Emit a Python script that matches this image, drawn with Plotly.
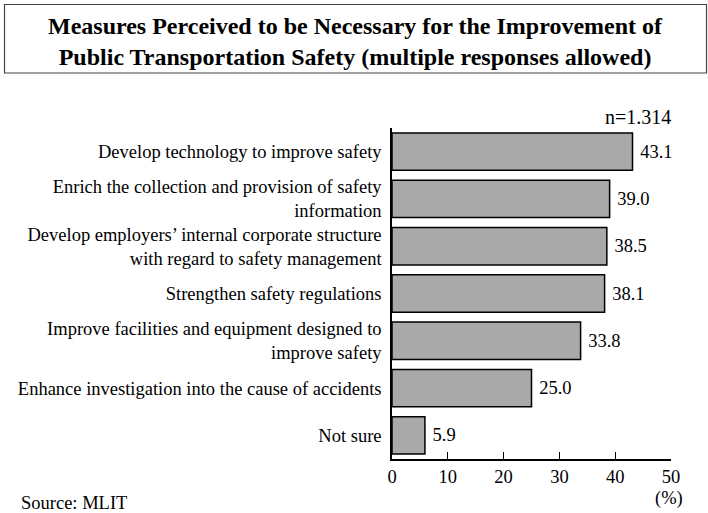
import plotly.graph_objects as go

categories = [
    "Develop technology to improve safety",
    "Enrich the collection and provision of safety<br>information",
    "Develop employers’ internal corporate structure<br>with regard to safety management",
    "Strengthen safety regulations",
    "Improve facilities and equipment designed to<br>improve safety",
    "Enhance investigation into the cause of accidents",
    "Not sure",
]
values = [43.1, 39.0, 38.5, 38.1, 33.8, 25.0, 5.9]
x_ticks = [0, 10, 20, 30, 40, 50]
title_lines = [
    "Measures Perceived to be Necessary for the Improvement of",
    "Public Transportation Safety (multiple responses allowed)",
]

FONT = "Liberation Serif"
FS = 18.5

W, H = 708, 513
L, R, T, B = 392, 37, 128, 54
pw = W - L - R
ph = H - T - B


def px(x):
    return (x - L) / pw


def py(y):
    return (H - B - y) / ph


fig = go.Figure(
    go.Bar(
        x=values,
        y=categories,
        orientation="h",
        marker=dict(color="#a9a9a9", line=dict(color="black", width=1.5)),
        width=0.79,
        text=["\u00a0" + f"{v:.1f}" for v in values],
        textposition="outside",
        textfont=dict(family=FONT, size=FS, color="black"),
        cliponaxis=False,
    )
)

fig.update_layout(
    width=W,
    height=H,
    margin=dict(l=L, r=R, t=T, b=B),
    plot_bgcolor="white",
    paper_bgcolor="white",
    showlegend=False,
    font=dict(family=FONT, size=FS, color="black"),
    xaxis=dict(
        range=[0, 50],
        tickvals=x_ticks,
        ticks="inside",
        ticklen=7,
        tickcolor="black",
        showline=True,
        linecolor="black",
        linewidth=1.5,
        showgrid=False,
        zeroline=False,
        tickfont=dict(family=FONT, size=FS),
    ),
    yaxis=dict(
        autorange="reversed",
        showline=True,
        linecolor="black",
        linewidth=1.5,
        ticks="",
        showgrid=False,
        ticklabelstandoff=5,
        tickfont=dict(family=FONT, size=FS),
    ),
    bargap=0.21,
)

fig.add_shape(
    type="rect",
    xref="paper",
    yref="paper",
    x0=px(4.5),
    x1=px(706.5),
    y0=py(73),
    y1=py(4.5),
    line=dict(color="#444444", width=1.2),
    fillcolor="rgba(0,0,0,0)",
    layer="below",
)

fig.add_annotation(
    text="<b>" + "<br>".join(title_lines) + "</b>",
    xref="paper", yref="paper", x=px(355), y=py(41),
    xanchor="center", yanchor="middle", align="center", showarrow=False,
    font=dict(family=FONT, size=24),
)

fig.add_annotation(
    text="n=1.314", xref="paper", yref="paper", x=px(673), y=py(117),
    xanchor="right", yanchor="middle", showarrow=False,
    font=dict(family=FONT, size=20),
)
fig.add_annotation(
    text="(%)", xref="paper", yref="paper", x=px(669), y=py(498),
    xanchor="center", yanchor="middle", showarrow=False,
    font=dict(family=FONT, size=FS),
)
fig.add_annotation(
    text="Source: MLIT", xref="paper", yref="paper", x=px(19), y=py(503),
    xanchor="left", yanchor="middle", showarrow=False,
    font=dict(family=FONT, size=FS),
)

fig.write_html(
    "out.html",
    config={"displayModeBar": False},
    post_script="document.body.style.margin='0';document.body.style.overflow='hidden';",
)
